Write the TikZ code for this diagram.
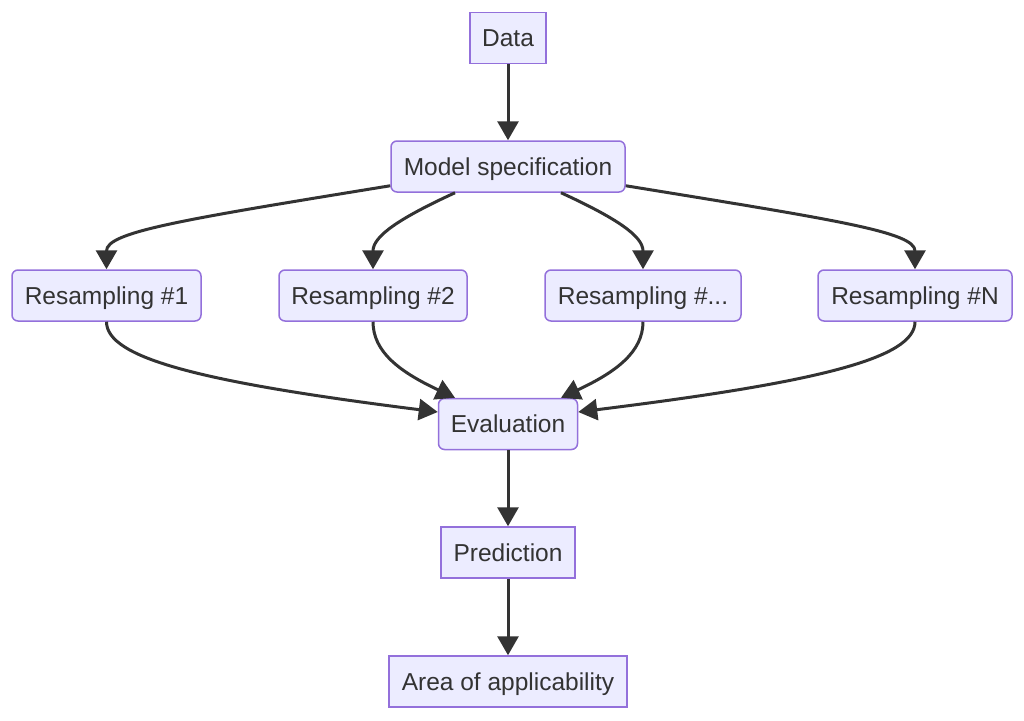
\documentclass[tikz,border=0pt]{standalone}
\usepackage{fontspec}
\setmainfont{Liberation Sans}
\usetikzlibrary{arrows.meta}
\definecolor{nodefill}{HTML}{ECECFF}
\definecolor{nodeborder}{HTML}{9370DB}
\definecolor{ink}{HTML}{333333}
\tikzset{
  box/.style={draw=nodeborder, fill=nodefill, line width=1.5pt, inner sep=0pt,
    minimum height=51pt, text height=17.6pt, text depth=0pt, text=ink,
    font=\fontsize{24.5}{28}\selectfont},
  rbox/.style={box, rounded corners=6pt},
  conn/.style={draw=ink, line width=3pt, -{Triangle[length=19pt,width=21pt]}},
}
\begin{document}
\begin{tikzpicture}[x=1pt,y=-1pt]
\path[use as bounding box] (0,0) rectangle (1024,720);
\node[box, minimum width=76pt] (data) at (508,38) {Data};
\node[rbox, minimum width=234pt] (ms) at (508,166.5) {Model specification};
\node[rbox, minimum width=189pt] (r1) at (106.5,295.5) {Resampling \#1};
\node[rbox, minimum width=188pt] (r2) at (373,295.5) {Resampling \#2};
\node[rbox, minimum width=196pt] (r3) at (643,295.5) {Resampling \#...};
\node[rbox, minimum width=194pt] (rn) at (915,295.5) {Resampling \#N};
\node[rbox, minimum width=139pt] (ev) at (508,424) {Evaluation};
\node[box, minimum width=134pt] (pr) at (508,552.5) {Prediction};
\node[box, minimum width=238pt] (aa) at (508,681.5) {Area of applicability};

\draw[conn] (data) -- (ms);
\draw[conn] ([yshift=7pt]ms.south west) .. controls (180,220) and (106.5,232) .. (r1.north);
\draw[conn] ([xshift=-53pt]ms.south) .. controls (400,218) and (373,236) .. (r2.north);
\draw[conn] ([xshift=53pt]ms.south) .. controls (616,218) and (643,236) .. (r3.north);
\draw[conn] ([yshift=7pt]ms.south east) .. controls (836,220) and (915,232) .. (rn.north);

\draw[conn] (r1.south) .. controls (106.5,358) and (200,382) .. ([yshift=12pt]ev.west);
\draw[conn] (r2.south) .. controls (373,352) and (400,372) .. ([xshift=-53pt]ev.north);
\draw[conn] (r3.south) .. controls (643,352) and (616,372) .. ([xshift=53pt]ev.north);
\draw[conn] (rn.south) .. controls (915,358) and (820,382) .. ([yshift=12pt]ev.east);

\draw[conn] (ev) -- (pr);
\draw[conn] (pr) -- (aa);
\end{tikzpicture}
\end{document}
